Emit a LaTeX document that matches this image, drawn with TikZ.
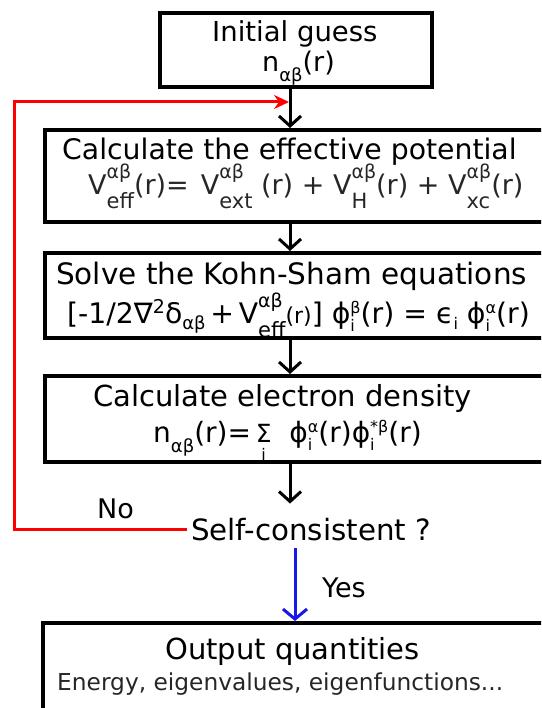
\documentclass[tikz,border=0pt]{standalone}
\usepackage{fontspec}
\setmainfont{DejaVu Sans}
\usetikzlibrary{arrows.meta}
\definecolor{flowblue}{RGB}{25,25,230}
\newcommand\fs[1]{\fontsize{#1pt}{#1pt}\selectfont}
% \UD{sup}{sub}{supsize}{subsize}{raise}{lower}
\newcommand\UD[6]{\leavevmode
  \setbox0\hbox{\fs{#3}#1}\setbox2\hbox{\fs{#4}#2}%
  \ifdim\wd0>\wd2 \dimen0=\wd0 \else \dimen0=\wd2 \fi
  \rlap{\raise#5\box0}\rlap{\lower#6\box2}\hspace*{\dimen0}}
\newcommand\Vab[1]{V\UD{αβ}{#1}{19}{21}{16pt}{14pt}}
\newcommand\phiud[2]{ϕ\UD{#1}{#2}{16}{16}{10pt}{8pt}}
\newcommand\sumi{\leavevmode\setbox0\hbox{\fs{25}Σ}\dimen0=\wd0
  \rlap{\box0}\hbox to\dimen0{\hss\lower18pt\hbox{\fs{16}i}\hss}}
\tikzset{
  box/.style={draw, line width=4pt, inner sep=0pt},
  lbl/.style={anchor=base west, inner sep=0pt},
  flow/.style={line width=3pt, -{Straight Barb[length=10pt,width=22pt]}},
  backflow/.style={red, line width=3pt, -{Stealth[length=15pt,width=14pt,inset=5pt]}},
  yesflow/.style={flowblue, line width=3pt, -{Straight Barb[length=10pt,width=24pt]}},
}
\begin{document}
\begin{tikzpicture}[x=1pt,y=-1pt]
\useasboundingbox (0,0) rectangle (541,708);
\clip (0,0) rectangle (541,708);
% boxes
\node[box, minimum width=272pt, minimum height=74pt] (b1) at (296,50) {};
\node[box, minimum width=555pt, minimum height=92pt] (b2) at (322.5,176) {};
\node[box, minimum width=555pt, minimum height=85pt] (b3) at (322.5,295.5) {};
\node[box, minimum width=555pt, minimum height=86pt] (b4) at (322.5,419) {};
\node[box, minimum width=557pt, minimum height=137pt] (b5) at (321.5,691.5) {};
% texts
\node[lbl] (t1a) at (212,42) {\fs{27.5}Initial guess};
\node[lbl] (t1b) at (262,72) {\fs{27}n\UD{}{αβ}{17}{18}{0pt}{10pt}(r)};
\node[lbl] (t2a) at (62,160) {\fs{28.3}Calculate the effective potential};
\node[lbl, text=black!85] (t2b) at (88,195) {\fs{27}\Vab{eff}(r)=\hspace{12pt}\Vab{ext} (r) + \Vab{H}(r) + \Vab{xc}(r)};
\node[lbl] (t3a) at (56,284) {\fs{29.5}Solve the Kohn-Sham equations};
\node[lbl] (t3b) at (67,323) {\fs{28.3}[-1/2∇\UD{2}{}{19}{17}{10pt}{0pt}δ\UD{}{αβ}{17}{18}{0pt}{6pt}\,+\,\Vab{eff}{\fs{22}(r)}] \phiud{β}{i}(r) = ϵ\UD{}{i}{15}{16}{0pt}{6pt} \phiud{α}{i}(r)};
\node[lbl] (t4a) at (93,406) {\fs{29}Calculate electron density};
\node[lbl] (t4b) at (153,442) {\fs{28}n\UD{}{αβ}{17}{18}{0pt}{10pt}(r)=\,\sumi\ \ \phiud{α}{i}(r)\phiud{*β}{i}(r)};
\node[lbl] (no) at (97,518) {\fs{27}No};
\node[lbl, inner xsep=4pt] (sc) at (187,540) {\fs{29.3}Self-consistent ?};
\node[lbl] (yes) at (322,597) {\fs{27}Yes};
\node[lbl] (t5a) at (165,659) {\fs{29}Output quantities};
\node[lbl, text=black!85] (t5b) at (57,690) {\fs{23.3}Energy, eigenvalues, eigenfunctions...};
% connectors
\coordinate (ax) at (290,0);
\coordinate (bx) at (295,0);
\coordinate (lx) at (14,102);
\coordinate (jn) at (289,102);
\draw[flow] (b1.south -| ax) -- (b2.north -| ax);
\draw[flow] (b2.south -| ax) -- (b3.north -| ax);
\draw[flow] (b3.south -| ax) -- (b4.north -| ax);
\draw[flow, shorten >=14pt] (b4.south -| ax) -- (sc.north -| ax);
\draw[backflow] (sc.west) -| (lx) -- (jn);
\draw[yesflow, shorten <=7pt] (sc.south -| bx) -- (b5.north -| bx);
\end{tikzpicture}
\end{document}
